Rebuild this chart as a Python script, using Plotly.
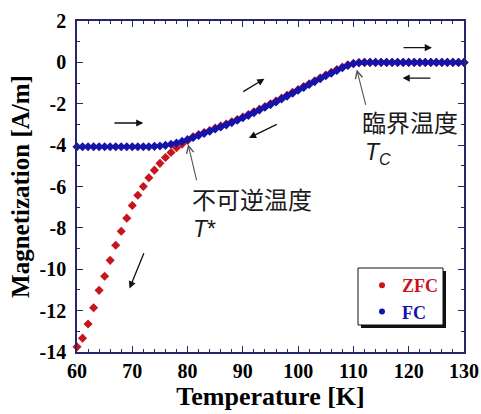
import plotly.graph_objects as go

# ---------------- data ----------------
temps_fc = list(range(60, 131))
fc_vals = ([-4.08] * 13 +                       # 60..72
           [-4.08, -4.06, -4.04, -4.01, -3.96, -3.90, -3.82,   # 73..79
            -3.73, -3.63, -3.53, -3.43, -3.33, -3.22, -3.12, -3.02, -2.91, -2.80,  # 80..89
            -2.68, -2.56, -2.43, -2.30, -2.17, -2.04, -1.91, -1.77, -1.63, -1.49,  # 90..99
            -1.35, -1.21, -1.07, -0.93, -0.79, -0.65, -0.52, -0.39, -0.26, -0.15,  # 100..109
            -0.07, -0.02] +                     # 110..111
           [0.0] * 19)                          # 112..130

temps_zfc = list(range(60, 131))
zfc_vals = ([-13.75, -13.33, -12.65, -11.86, -11.02, -10.34, -9.57, -8.84, -8.16, -7.53,  # 60..69
             -6.92, -6.42, -6.00, -5.58, -5.21, -4.88, -4.60, -4.36, -4.13, -3.95,         # 70..79
             -3.78, -3.60, -3.49, -3.39, -3.29, -3.18, -3.08, -2.98, -2.87, -2.76,         # 80..89
             -2.64, -2.52, -2.39, -2.26, -2.13, -2.00, -1.87, -1.73, -1.59, -1.45,         # 90..99
             -1.31, -1.17, -1.03, -0.89, -0.75, -0.61, -0.48, -0.35, -0.23, -0.12,         # 100..109
             -0.05, -0.01] +
            [0.0] * 19)

x_ticks = [60, 70, 80, 90, 100, 110, 120, 130]
x_ticklabels = ["60", "70", "80", "90", "100", "110", "120", "130"]
y_ticks = [2, 0, -2, -4, -6, -8, -10, -12, -14]
y_ticklabels = ["2", "0", "-2", "-4", "-6", "-8", "-10", "-12", "-14"]

series_names = ["ZFC", "FC"]
label_tc = "臨界温度"
label_tstar = "不可逆温度"

# ---------------- styling ----------------
RED = "#c8141e"
BLUE = "#1414aa"
AXIS = "#26266e"
SERIF = "Liberation Serif"
CJK = "Noto Sans CJK JP"

W, H = 481, 414
ML, MR, MT, MB = 77, 17, 21, 62
PW, PH = W - ML - MR, H - MT - MB

def px2paper_x(px):
    return (px - ML) / PW

def px2paper_y(py):
    return (H - MB - py) / PH

fig = go.Figure()

fig.add_trace(go.Scatter(
    x=temps_zfc, y=zfc_vals, mode="markers", name=series_names[0],
    marker=dict(symbol="diamond", size=7, color=RED),
    cliponaxis=False, showlegend=False))
fig.add_trace(go.Scatter(
    x=temps_fc, y=fc_vals, mode="lines+markers", name=series_names[1],
    marker=dict(symbol="diamond", size=7, color=BLUE),
    line=dict(color=BLUE, width=1.5),
    cliponaxis=False, showlegend=False))

# legend entries (small round dots as in the reference)
fig.add_trace(go.Scatter(x=[None], y=[None], mode="markers",
                         name="<span style='color:%s'>%s</span>" % (RED, series_names[0]),
                         marker=dict(symbol="circle", size=6, color=RED)))
fig.add_trace(go.Scatter(x=[None], y=[None], mode="markers",
                         name="<span style='color:%s'>%s</span>" % (BLUE, series_names[1]),
                         marker=dict(symbol="circle", size=6, color=BLUE)))

# ---------------- arrows ----------------
black_arrows = [
    ((66.5, -2.93), (72.0, -2.93)),
    ((89.8, -1.46), (93.9, -0.79)),
    ((96.4, -2.96), (91.1, -3.65)),
    ((118.8, 0.71), (124.2, 0.71)),
    ((124.2, -0.76), (118.9, -0.76)),
    ((72.2, -9.16), (69.5, -10.93)),
]
for (tx, ty), (hx, hy) in black_arrows:
    fig.add_annotation(x=hx, y=hy, ax=tx, ay=ty, xref="x", yref="y", axref="x", ayref="y",
                       text="", showarrow=True, arrowhead=2, arrowsize=1.1, arrowwidth=1.3,
                       arrowcolor="#111111", standoff=0, startstandoff=0)

gray_pointers = [
    ((81.7, -5.78), (80.1, -3.96)),
    ((112.3, -2.13), (110.6, -0.35)),
]
for (tx, ty), (hx, hy) in gray_pointers:
    fig.add_annotation(x=hx, y=hy, ax=tx, ay=ty, xref="x", yref="y", axref="x", ayref="y",
                       text="", showarrow=True, arrowhead=5, arrowsize=1.3, arrowwidth=1.1,
                       arrowcolor="#555555", standoff=0, startstandoff=0)

# ---------------- labels ----------------
fig.add_annotation(x=px2paper_x(360), y=px2paper_y(121), xref="paper", yref="paper",
                   xanchor="left", yanchor="middle", text=label_tc, showarrow=False, height=27,
                   font=dict(family=CJK, size=24, color="#1a1a1a"))
fig.add_annotation(x=px2paper_x(363), y=px2paper_y(153), xref="paper", yref="paper",
                   xanchor="left", yanchor="middle", text="<i>T</i><sub><i>C</i></sub>",
                   showarrow=False, height=27,
                   font=dict(family="Liberation Sans", size=23, color="#1a1a1a"))
fig.add_annotation(x=px2paper_x(190), y=px2paper_y(198), xref="paper", yref="paper",
                   xanchor="left", yanchor="middle", text=label_tstar, showarrow=False, height=27,
                   font=dict(family=CJK, size=24, color="#1a1a1a"))
fig.add_annotation(x=px2paper_x(191), y=px2paper_y(228), xref="paper", yref="paper",
                   xanchor="left", yanchor="middle", text="<i>T</i>*", height=27,
                   showarrow=False, font=dict(family="Liberation Sans", size=23, color="#1a1a1a"))

# legend frame with drop shadow
fig.add_shape(type="rect", xref="paper", yref="paper",
              x0=px2paper_x(361), x1=px2paper_x(446),
              y0=px2paper_y(328), y1=px2paper_y(271),
              fillcolor="#111111", line=dict(width=0), layer="above")
fig.add_shape(type="rect", xref="paper", yref="paper",
              x0=px2paper_x(358), x1=px2paper_x(443),
              y0=px2paper_y(325), y1=px2paper_y(268),
              fillcolor="white", line=dict(width=1, color="#111111"), layer="above")

axis_common = dict(
    showline=True, linecolor=AXIS, linewidth=1.5, mirror="ticks",
    ticks="inside", ticklen=6, tickwidth=1.3, tickcolor=AXIS,
    showgrid=False, zeroline=False, automargin=False,
    tickfont=dict(family=SERIF, size=20, color="black", weight="bold"),
)

fig.update_layout(
    width=W, height=H,
    margin=dict(l=ML, r=MR, t=MT, b=MB),
    paper_bgcolor="white", plot_bgcolor="white",
    xaxis=dict(range=[60, 130], tickvals=x_ticks, ticktext=x_ticklabels,
               minor=dict(dtick=2, tick0=60, ticks="inside", ticklen=3.5, tickwidth=1, tickcolor=AXIS),
               title=dict(text="Temperature [K]", standoff=2,
                          font=dict(family=SERIF, size=26, color="black", weight="bold")),
               ticklabelstandoff=0,
               **axis_common),
    yaxis=dict(range=[-14, 2], tickvals=y_ticks, ticktext=y_ticklabels,
               minor=dict(dtick=1, tick0=0, ticks="inside", ticklen=3.5, tickwidth=1, tickcolor=AXIS),
               title=dict(text="Magnetization [A/m]", standoff=3,
                          font=dict(family=SERIF, size=25, color="black", weight="bold")),
               ticklabelstandoff=5,
               **axis_common),
    legend=dict(x=px2paper_x(362), y=px2paper_y(267), xanchor="left", yanchor="top",
                bgcolor="rgba(0,0,0,0)", borderwidth=0,
                font=dict(family=SERIF, size=18, weight="bold"),
                itemwidth=30, tracegroupgap=0),
    showlegend=True,
)

fig.write_html("out.html")
